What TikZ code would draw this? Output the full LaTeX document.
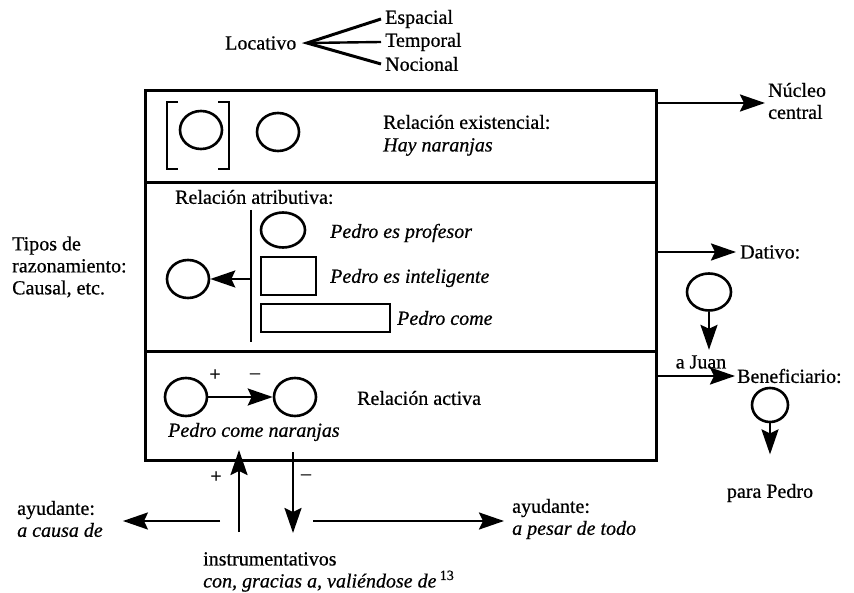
\documentclass[tikz,border=0pt]{standalone}
\usepackage{fontspec}
\setmainfont{Liberation Serif}[UprightFeatures={FakeBold=0.6}, ItalicFeatures={FakeBold=0.6}]
\usepackage{tikz}
\usetikzlibrary{shapes.geometric, arrows.meta}
\tikzstyle{blob} = [ellipse, draw=black, line width=2.6pt, minimum width=42pt, minimum height=38pt, inner sep=0pt]
\tikzstyle{txt} = [anchor=west, inner sep=0pt, align=left]
\tikzstyle{arrow} = [line width=2.4pt, -{Stealth[length=25pt,width=17pt,inset=4pt]}]
\tikzstyle{frame} = [line width=3pt]

\begin{document}
\begin{tikzpicture}[x=1pt, y=-1pt, font=\fontsize{20}{22}\selectfont]
                    \useasboundingbox (0,0) rectangle (854,593);

                    % marco con las tres relaciones
                    \draw[frame] (145,91) rectangle (656,460);
                    \draw[frame] (145,183) -- (656,183);
                    \draw[frame] (145,352) -- (656,352);

                    % locativo
                    \node[txt] (loc) at (225,43) {Locativo};
                    \coordinate (fork) at (307,43);
                    \node[txt] (esp) at (385,19) {Espacial};
                    \node[txt] (tem) at (385,42) {Temporal};
                    \node[txt] (noc) at (385,64) {Nocional};
                    \draw[line width=3pt] ([xshift=-4pt]esp.west) -- (fork) -- ([xshift=-4pt]noc.west);
                    \draw[line width=2.4pt] ([xshift=-4pt]tem.west) -- (fork);

                    % relacion existencial
                    \node[blob] (exa) at (201,130) {};
                    \draw[line width=2.6pt] (exa.center) ++(-23,-28) -- ++(-11,0) -- ++(0,67) -- ++(11,0);
                    \draw[line width=2.6pt] (exa.center) ++(17,-28) -- ++(11,0) -- ++(0,67) -- ++(-11,0);
                    \node[blob] (exb) at (278,132) {};
                    \node[txt] (relex) at (383,122) {Relación existencial:};
                    \node[txt] (hay) at (383,147) {\itshape Hay naranjas};

                    \node[txt] (nucleo) at (768,101) {Núcleo\\central};
                    \coordinate (nuc) at (656,103);
                    \draw[arrow] (nuc) -- ([xshift=-3pt]nucleo.west |- nuc);

                    % relacion atributiva
                    \node[txt] (relat) at (175,197) {Relación atributiva:};
                    \coordinate (bar-t) at (251,210);
                    \coordinate (bar-b) at (251,342);
                    \draw[line width=2.2pt] (bar-t) -- (bar-b);
                    \node[blob, minimum width=44pt, minimum height=35pt] (prof) at (283,230) {};
                    \node[draw, line width=2.4pt, minimum width=55pt, minimum height=38pt, inner sep=0pt] (intel) at (288.5,276) {};
                    \node[draw, line width=2.4pt, minimum width=129pt, minimum height=28pt, inner sep=0pt] (come) at (325.5,318) {};
                    \node[txt] (tprof) at (330,233) {\itshape Pedro es profesor};
                    \node[txt] (tintel) at (330,278) {\itshape Pedro es inteligente};
                    \node[txt] (tcome) at (397,318) {\itshape Pedro come};
                    \node[blob] (razc) at (188,279) {};
                    \draw[arrow] (bar-t |- razc) -- (razc);
                    \node[txt] (raz) at (12,267) {Tipos de\\razonamiento:\\Causal, etc.};

                    % dativo y beneficiario
                    \node[txt] (dat) at (740,252) {Dativo:};
                    \draw[arrow] (nuc |- dat) -- ([xshift=-4pt]dat.west);
                    \node[blob, minimum width=44pt, minimum height=37pt] (datc) at (709,292) {};
                    \node (juan) at (701,362) {a Juan};
                    \draw[arrow] (datc) -- ([yshift=2pt]datc.south |- juan.north);
                    \node[txt] (ben) at (737,376) {Beneficiario:};
                    \draw[arrow] (nuc |- ben) -- ([xshift=-2pt]ben.west);
                    \node[blob, minimum width=36pt, minimum height=34pt] (benc) at (770,405) {};
                    \node (para) at (770,493) {para Pedro};
                    \draw[arrow] (benc) -- ([yshift=26pt]benc.south |- para.north);

                    % relacion activa
                    \node[blob] (act1) at (186,397) {};
                    \node[blob] (act2) at (295,397) {};
                    \draw[arrow] (act1) -- (act2);
                    \node (mas) at (215,375) {\fontsize{20}{20}\selectfont +};
                    \node (menos) at (255,376) {\fontsize{20}{20}\selectfont –};
                    \node[txt] (relac) at (357,398) {Relación activa};
                    \node[txt] (pcn) at (168,432) {\itshape Pedro come naranjas};

                    % instrumentativos
                    \coordinate (up-s) at (239,532);
                    \coordinate (up-e) at (239,450);
                    \coordinate (dn-s) at (293,452);
                    \coordinate (dn-e) at (293,533);
                    \draw[arrow] (up-s) -- (up-e);
                    \draw[arrow] (dn-s) -- (dn-e);
                    \node (mas2) at (216,477) {\fontsize{20}{20}\selectfont +};
                    \node (menos2) at (306,477) {\fontsize{20}{20}\selectfont –};
                    \node[txt] (ayl) at (17,519) {ayudante:\\\itshape a causa de};
                    \node[txt] (ayr) at (512,519) {ayudante:\\\itshape a pesar de todo};
                    \coordinate (izq) at (220,521);
                    \coordinate (der) at (313,521);
                    \draw[arrow] (izq) -- ([xshift=20pt]ayl.east |- izq);
                    \draw[arrow] (der) -- ([xshift=-8pt]ayr.west |- der);
                    \node[txt] (instr) at (203,572) {instrumentativos\\\itshape con, gracias a, valiéndose de\,\textsuperscript{\upshape 13}};
                \end{tikzpicture}
\end{document}
